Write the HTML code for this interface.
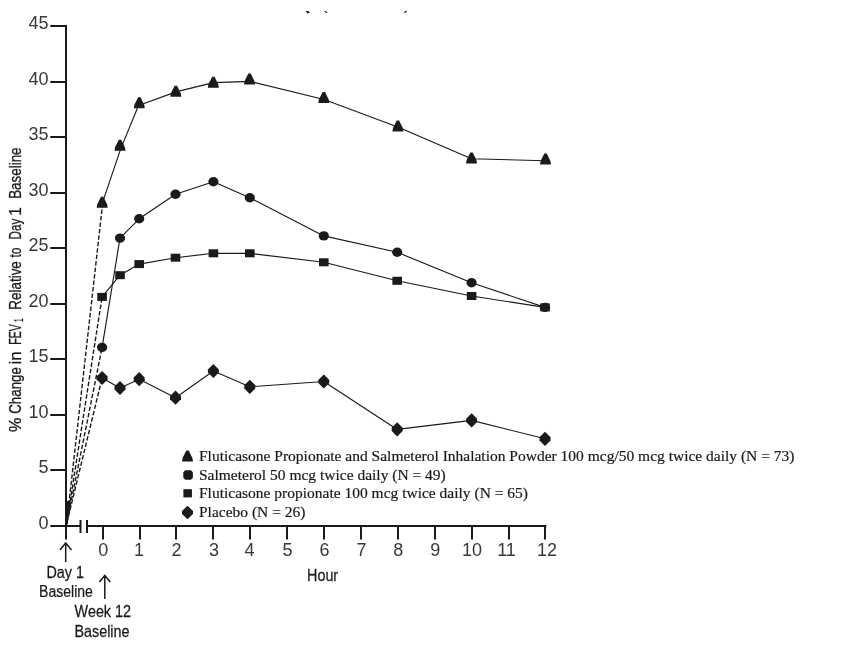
<!DOCTYPE html><html><head><meta charset="utf-8"><style>html,body{margin:0;padding:0;background:#fff;}body{width:848px;height:650px;overflow:hidden;}svg{display:block;will-change:transform;}</style></head><body>
<svg width="848" height="650" viewBox="0 0 848 650">
<rect width="848" height="650" fill="#fff"/>
<g fill="#1a1a1a"><path d="M305.5,10.9 L308.6,11.3 L310,12.6 L307.4,13.4 Z"/><path d="M324,10.9 L325.9,11.2 L327.6,12.7 L326.3,13.3 Z"/><path d="M403.7,13.1 L404.8,11.3 L407,10.8 L406.4,12.3 Z"/></g>
<g stroke="#1a1a1a" stroke-width="2" fill="none">
<line x1="66" y1="25" x2="66" y2="539.5"/>
<line x1="50.3" y1="526" x2="66" y2="526"/>
<line x1="50.3" y1="470" x2="66" y2="470"/>
<line x1="50.3" y1="415" x2="66" y2="415"/>
<line x1="50.3" y1="359" x2="66" y2="359"/>
<line x1="50.3" y1="304" x2="66" y2="304"/>
<line x1="50.3" y1="248" x2="66" y2="248"/>
<line x1="50.3" y1="193" x2="66" y2="193"/>
<line x1="50.3" y1="137" x2="66" y2="137"/>
<line x1="50.3" y1="82" x2="66" y2="82"/>
<line x1="50.3" y1="26" x2="66" y2="26"/>
<line x1="66" y1="526" x2="80.5" y2="526"/>
<line x1="87" y1="526" x2="546.4" y2="526"/>
<line x1="80.5" y1="520" x2="80.5" y2="533"/>
<line x1="87" y1="520" x2="87" y2="533"/>
<line x1="103" y1="526" x2="103" y2="539.5"/>
<line x1="140" y1="526" x2="140" y2="539.5"/>
<line x1="176" y1="526" x2="176" y2="539.5"/>
<line x1="213" y1="526" x2="213" y2="539.5"/>
<line x1="250" y1="526" x2="250" y2="539.5"/>
<line x1="287" y1="526" x2="287" y2="539.5"/>
<line x1="324" y1="526" x2="324" y2="539.5"/>
<line x1="361" y1="526" x2="361" y2="539.5"/>
<line x1="398" y1="526" x2="398" y2="539.5"/>
<line x1="435" y1="526" x2="435" y2="539.5"/>
<line x1="472" y1="526" x2="472" y2="539.5"/>
<line x1="509" y1="526" x2="509" y2="539.5"/>
<line x1="545" y1="526" x2="545" y2="539.5"/>
</g>
<g font-family="Liberation Sans" font-size="18" fill="#383838" text-anchor="end">
<text x="48.5" y="529.0">0</text>
<text x="48.5" y="473.4">5</text>
<text x="48.5" y="417.9">10</text>
<text x="48.5" y="362.3">15</text>
<text x="48.5" y="306.8">20</text>
<text x="48.5" y="251.2">25</text>
<text x="48.5" y="195.7">30</text>
<text x="48.5" y="140.1">35</text>
<text x="48.5" y="84.6">40</text>
<text x="48.5" y="29.0">45</text>
</g>
<g font-family="Liberation Sans" font-size="18" fill="#383838" text-anchor="middle">
<text x="103.2" y="555.5">0</text>
<text x="138.9" y="555.5">1</text>
<text x="176.5" y="555.5">2</text>
<text x="213.9" y="555.5">3</text>
<text x="249.5" y="555.5">4</text>
<text x="287.6" y="555.5">5</text>
<text x="324.5" y="555.5">6</text>
<text x="361.4" y="555.5">7</text>
<text x="398.3" y="555.5">8</text>
<text x="435.2" y="555.5">9</text>
<text x="471.9" y="555.5">10</text>
<text x="506.5" y="555.5">11</text>
<text x="546.9" y="555.5">12</text>
</g>
<g stroke="#1a1a1a" stroke-width="1.4" fill="none" stroke-dasharray="4.5,2">
<line x1="66.6" y1="524" x2="102.9" y2="201.4" stroke-dashoffset="0.0"/>
<line x1="66.6" y1="524" x2="102.1" y2="347.4" stroke-dashoffset="1.7"/>
<line x1="66.6" y1="524" x2="102.1" y2="296.9" stroke-dashoffset="3.4"/>
<line x1="66.6" y1="524" x2="102.1" y2="378" stroke-dashoffset="5.1"/>
</g>
<path d="M65.2,524.5 L65.6,501 L70.4,501 L68.4,517 L67.6,524.5 Z" fill="#1a1a1a"/>
<g stroke="#1a1a1a" stroke-width="1.15" fill="none" stroke-linejoin="round">
<polyline points="102.9,201.4 120.6,149.1 138.5,105.5 176.7,91.6 213.5,82.6 250.4,81.4 324.1,99.5 397.8,127 471.5,158.7 545.2,160.8"/>
<polyline points="102.1,347.4 120.0,238.1 139.2,218.8 175.5,194.3 213.4,181.7 249.8,197.8 323.8,235.9 397.2,252.3 471.6,282.8 545.0,307.4"/>
<polyline points="102.1,296.9 120.0,275.2 139.2,264.1 175.5,257.7 213.4,253.3 249.8,253.3 323.8,262.3 397.2,280.8 471.6,296 545.0,307.4"/>
<polyline points="102.1,378 120.0,388 139.2,379.2 175.5,397.7 213.4,371 249.8,386.8 323.8,381.5 397.2,429.4 471.6,420.4 545.0,438.8"/>
</g>
<g fill="#1a1a1a">
<path d="M96.7,207.7 L97.3,204.2 L101.0,196.7 L103.4,196.7 L107.1,204.2 L107.7,207.7Z"/>
<path d="M114.5,150.7 L115.1,147.2 L118.8,139.7 L121.2,139.7 L124.9,147.2 L125.5,150.7Z"/>
<path d="M133.8,108.2 L134.4,104.8 L138.1,97.2 L140.5,97.2 L144.2,104.8 L144.8,108.2Z"/>
<path d="M170.3,96.7 L170.9,93.2 L174.6,85.7 L177.0,85.7 L180.7,93.2 L181.3,96.7Z"/>
<path d="M207.8,87.8 L208.4,84.3 L212.2,76.8 L214.5,76.8 L218.2,84.3 L218.8,87.8Z"/>
<path d="M244.0,84.5 L244.6,81.0 L248.3,73.5 L250.7,73.5 L254.4,81.0 L255.0,84.5Z"/>
<path d="M318.3,103.0 L318.9,99.5 L322.6,92.0 L325.0,92.0 L328.7,99.5 L329.3,103.0Z"/>
<path d="M392.4,131.4 L393.0,127.9 L396.7,120.4 L399.1,120.4 L402.8,127.9 L403.4,131.4Z"/>
<path d="M466.0,163.5 L466.6,160.0 L470.3,152.5 L472.7,152.5 L476.4,160.0 L477.0,163.5Z"/>
<path d="M540.0,164.5 L540.6,161.0 L544.3,153.5 L546.7,153.5 L550.4,161.0 L551.0,164.5Z"/>
<ellipse cx="102.1" cy="347.4" rx="5.1" ry="4.7"/>
<ellipse cx="120.0" cy="238.1" rx="5.1" ry="4.7"/>
<ellipse cx="139.2" cy="218.8" rx="5.1" ry="4.7"/>
<ellipse cx="175.5" cy="194.3" rx="5.1" ry="4.7"/>
<ellipse cx="213.4" cy="181.7" rx="5.1" ry="4.7"/>
<ellipse cx="249.8" cy="197.8" rx="5.1" ry="4.7"/>
<ellipse cx="323.8" cy="235.9" rx="5.1" ry="4.7"/>
<ellipse cx="397.2" cy="252.3" rx="5.1" ry="4.7"/>
<ellipse cx="471.6" cy="282.8" rx="5.1" ry="4.7"/>
<ellipse cx="545.0" cy="307.4" rx="5.1" ry="4.7"/>
<rect x="97.3" y="292.9" width="9.6" height="8"/>
<rect x="115.2" y="271.2" width="9.6" height="8"/>
<rect x="134.4" y="260.1" width="9.6" height="8"/>
<rect x="170.7" y="253.7" width="9.6" height="8"/>
<rect x="208.6" y="249.3" width="9.6" height="8"/>
<rect x="245.0" y="249.3" width="9.6" height="8"/>
<rect x="319.0" y="258.3" width="9.6" height="8"/>
<rect x="392.4" y="276.8" width="9.6" height="8"/>
<rect x="466.8" y="292.0" width="9.6" height="8"/>
<rect x="540.2" y="303.4" width="9.6" height="8"/>
<path d="M102.1,370.9 L107.6,376.4 L107.6,379.6 L102.1,385.1 L96.6,379.6 L96.6,376.4Z"/>
<path d="M120.0,380.9 L125.5,386.4 L125.5,389.6 L120.0,395.1 L114.5,389.6 L114.5,386.4Z"/>
<path d="M139.2,372.1 L144.7,377.6 L144.7,380.8 L139.2,386.3 L133.7,380.8 L133.7,377.6Z"/>
<path d="M175.5,390.6 L181.0,396.1 L181.0,399.3 L175.5,404.8 L170.0,399.3 L170.0,396.1Z"/>
<path d="M213.4,363.9 L218.9,369.4 L218.9,372.6 L213.4,378.1 L207.9,372.6 L207.9,369.4Z"/>
<path d="M249.8,379.7 L255.3,385.2 L255.3,388.4 L249.8,393.9 L244.3,388.4 L244.3,385.2Z"/>
<path d="M323.8,374.4 L329.3,379.9 L329.3,383.1 L323.8,388.6 L318.3,383.1 L318.3,379.9Z"/>
<path d="M397.2,422.2 L402.7,427.8 L402.7,431.0 L397.2,436.5 L391.7,431.0 L391.7,427.8Z"/>
<path d="M471.6,413.2 L477.1,418.8 L477.1,422.0 L471.6,427.5 L466.1,422.0 L466.1,418.8Z"/>
<path d="M545.0,431.7 L550.5,437.2 L550.5,440.4 L545.0,445.9 L539.5,440.4 L539.5,437.2Z"/>
</g>
<g fill="#1a1a1a">
<path d="M182.0,461.5 L182.6,458.0 L186.3,450.5 L188.7,450.5 L192.4,458.0 L193.0,461.5Z"/>
<path d="M185.2,470.3 L191,470.3 L192.9,472.2 L192.9,477.8 L191,479.7 L185.2,479.7 L183.3,477.8 L183.3,472.2 Z"/>
<rect x="183.4" y="489.2" width="8.5" height="8.2"/>
<path d="M187.5,505.8 L193.0,510.9 L193.0,514.1 L187.5,519.2 L182.0,514.1 L182.0,510.9Z"/>
</g>
<g font-family="Liberation Serif" font-size="15.5" fill="#1a1a1a" stroke="#1a1a1a" stroke-width="0.2">
<text x="199" y="460.7">Fluticasone Propionate and Salmeterol Inhalation Powder 100 mcg/50 mcg twice daily (N = 73)</text>
<text x="199" y="479.6">Salmeterol 50 mcg twice daily (N = 49)</text>
<text x="199" y="497.7">Fluticasone propionate 100 mcg twice daily (N = 65)</text>
<text x="199" y="516.8">Placebo (N = 26)</text>
</g>
<g font-family="Liberation Sans" font-size="16.5" fill="#1a1a1a" stroke="#1a1a1a" stroke-width="0.3">
<text transform="translate(21,431.99) rotate(-90) scale(0.9778,1)" font-size="16.5">%</text>
<text transform="translate(21,413.74) rotate(-90) scale(0.8060,1)" font-size="16.5">Change</text>
<text transform="translate(21,364.53) rotate(-90) scale(1.0280,1)" font-size="16.5">in</text>
<text transform="translate(21,344.80) rotate(-90) scale(0.6438,1)" font-size="16.5">FEV</text>
<text transform="translate(21,309.74) rotate(-90) scale(0.8153,1)" font-size="16.5">Relative</text>
<text transform="translate(21,257.55) rotate(-90) scale(0.7364,1)" font-size="16.5">to</text>
<text transform="translate(21,239.39) rotate(-90) scale(0.7061,1)" font-size="16.5">Day</text>
<text transform="translate(21,215.81) rotate(-90) scale(0.9296,1)" font-size="16.5">1</text>
<text transform="translate(21,198.84) rotate(-90) scale(0.8134,1)" font-size="16.5">Baseline</text>
<text transform="translate(22.6,321.88) rotate(-90) scale(0.4828,1)" font-size="13.5">1</text>
</g>
<g font-family="Liberation Sans" font-size="16.5" fill="#1a1a1a" text-anchor="middle" stroke="#1a1a1a" stroke-width="0.25">
<text transform="translate(322.6,581) scale(0.87,1)">Hour</text>
<text transform="translate(65.2,577.5) scale(0.87,1)">Day 1</text>
<text transform="translate(66,596.8) scale(0.85,1)">Baseline</text>
<text transform="translate(102.8,617.3) scale(0.87,1)">Week 12</text>
<text transform="translate(102,637) scale(0.87,1)">Baseline</text>
</g>
<g stroke="#1a1a1a" stroke-width="1.5" fill="none">
<path d="M65.7,543 V562 M60,550 L65.7,543 L71.5,550"/>
<path d="M104.8,575.5 V599 M99.3,582 L104.8,575.5 L110.3,582"/>
</g>
</svg></body></html>
